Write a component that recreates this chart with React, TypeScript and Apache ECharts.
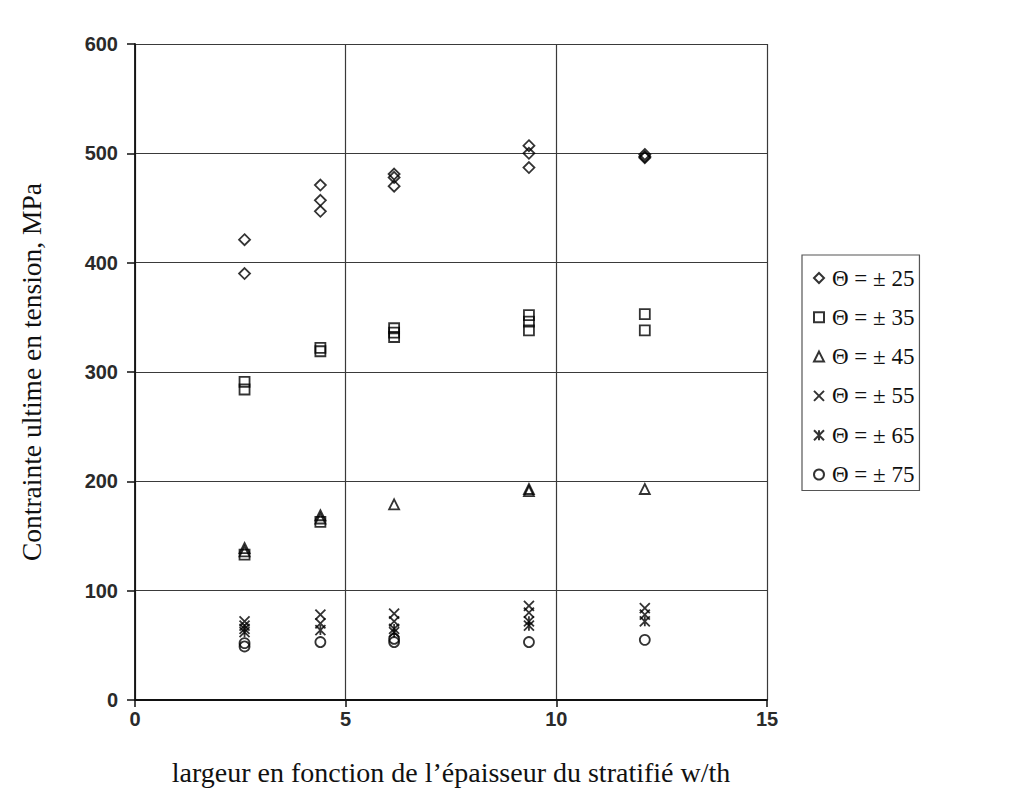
import React, { useEffect, useRef } from "react";
import * as echarts from "echarts";

// Largeur relative des éprouvettes (w/th)
const widthRatios = [2.6, 4.4, 6.15, 9.35, 12.1];

// Contrainte ultime (MPa) par orientation des plis, [w/th, MPa]
const theta25: [number, number][] = [
  [2.6, 421], [2.6, 390],
  [4.4, 471], [4.4, 457], [4.4, 447],
  [6.15, 481], [6.15, 478], [6.15, 470],
  [9.35, 507], [9.35, 500], [9.35, 487],
  [12.1, 499], [12.1, 497], [12.1, 496],
];
const theta35: [number, number][] = [
  [2.6, 291], [2.6, 284], [2.6, 133],
  [4.4, 322], [4.4, 319], [4.4, 163],
  [6.15, 340], [6.15, 336], [6.15, 332],
  [9.35, 352], [9.35, 346], [9.35, 338],
  [12.1, 353], [12.1, 338],
];
const theta45: [number, number][] = [
  [2.6, 139], [2.6, 136],
  [4.4, 169], [4.4, 166],
  [6.15, 179],
  [9.35, 193], [9.35, 191],
  [12.1, 193],
];
const theta55: [number, number][] = [
  [2.6, 72], [2.6, 68],
  [4.4, 78], [4.4, 70],
  [6.15, 79], [6.15, 72],
  [9.35, 86], [9.35, 80],
  [12.1, 84], [12.1, 78],
];
const theta65: [number, number][] = [
  [2.6, 65], [2.6, 62],
  [4.4, 64],
  [6.15, 65], [6.15, 62],
  [9.35, 72], [9.35, 68],
  [12.1, 72],
];
const theta75: [number, number][] = [
  [2.6, 52], [2.6, 49],
  [4.4, 53],
  [6.15, 56], [6.15, 53],
  [9.35, 53],
  [12.1, 55],
];

const seriesNames = [
  "Θ = ± 25",
  "Θ = ± 35",
  "Θ = ± 45",
  "Θ = ± 55",
  "Θ = ± 65",
  "Θ = ± 75",
];
const seriesData = [theta25, theta35, theta45, theta55, theta65, theta75];
const seriesSymbols = [
  "diamond",
  "rect",
  "triangle",
  "path://M0,0L10,10M10,0L0,10",
  "path://M0,0L10,10M10,0L0,10M5,0L5,10",
  "circle",
];
const seriesSizes = [11, 10, 10, 10, 10, 10];

const xTicks = [0, 5, 10, 15];
const yTicks = [0, 100, 200, 300, 400, 500, 600];

export default function App() {
  const ref = useRef<HTMLDivElement>(null);

  useEffect(() => {
    if (!ref.current) return;
    const chart = echarts.init(ref.current, undefined, { renderer: "svg" });
    const serif = "'Liberation Serif', 'Times New Roman', serif";
    const sans = "'Liberation Sans', Arial, sans-serif";

    chart.setOption({
      animation: false,
      backgroundColor: "#ffffff",
      grid: { left: 135, right: 243, top: 44, bottom: 91 },
      xAxis: {
        type: "value",
        min: xTicks[0],
        max: xTicks[xTicks.length - 1],
        interval: 5,
        name: "largeur en fonction de l’épaisseur du stratifié w/th",
        nameLocation: "middle",
        nameGap: 58,
        nameTextStyle: { fontFamily: serif, fontSize: 28, color: "#111" },
        axisLine: { onZero: false, lineStyle: { color: "#111", width: 1.8 } },
        axisTick: { show: true, length: 7, inside: false, lineStyle: { color: "#111", width: 1.5 } },
        axisLabel: { fontFamily: sans, fontSize: 20, fontWeight: "bold", color: "#2a2a2a", margin: 9 },
        splitLine: { show: true, lineStyle: { color: "#3a3a3a", width: 1.2 } },
      },
      yAxis: {
        type: "value",
        min: yTicks[0],
        max: yTicks[yTicks.length - 1],
        interval: 100,
        name: "Contrainte ultime en tension, MPa",
        nameLocation: "middle",
        nameGap: 90,
        nameRotate: 90,
        nameTextStyle: { fontFamily: serif, fontSize: 27.5, color: "#111" },
        axisLine: { show: true, lineStyle: { color: "#111", width: 1.8 } },
        axisTick: { show: true, length: 8, lineStyle: { color: "#111", width: 1.5 } },
        axisLabel: { fontFamily: sans, fontSize: 20, fontWeight: "bold", color: "#2a2a2a", margin: 17 },
        splitLine: { show: true, lineStyle: { color: "#3a3a3a", width: 1.2 } },
      },
      legend: {
        orient: "vertical",
        left: 802,
        top: 255,
        padding: [11, 5, 4, 11],
        itemGap: 15.3,
        itemWidth: 10,
        itemHeight: 10,
        borderColor: "#555",
        borderWidth: 1.2,
        textStyle: { fontFamily: serif, fontSize: 23, lineHeight: 24, color: "#111", padding: [0, 0, 0, 3] },
        data: seriesNames.map((n, i) => ({ name: n, icon: seriesSymbols[i] })),
      },
      series: seriesNames.map((name, i) => ({
        name,
        type: "scatter",
        data: seriesData[i],
        symbol: seriesSymbols[i],
        symbolSize: seriesSizes[i],
        itemStyle: {
          color: "rgba(255,255,255,0)",
          borderColor: "#000",
          borderWidth: 1.8,
        },
      })),
    });

    return () => chart.dispose();
  }, []);

  return (
    <div
      ref={ref}
      style={{ position: "fixed", left: 0, top: 0, width: 1010, height: 791 }}
    />
  );
}
